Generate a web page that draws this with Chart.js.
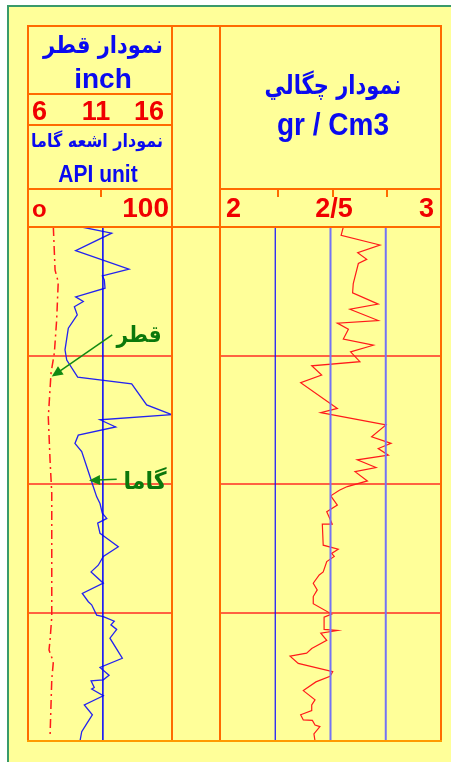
<!DOCTYPE html>
<html>
<head>
<meta charset="utf-8">
<script src="https://cdn.jsdelivr.net/npm/chart.js@4/dist/chart.umd.min.js"></script>
<style>
  body { margin: 0; background: #fff; width: 451px; height: 762px; overflow: hidden; position: relative; }
  #sheet { position: absolute; left: 7px; top: 5px; width: 460px; height: 770px; background: #FFFF99;
           border-left: 2px solid #3A9A6A; border-top: 2px solid #3A9A6A; }
  .ln { position: absolute; background: #FF6A00; }
  .txt { position: absolute; white-space: nowrap; text-align: center; }
  .fa { font-family: "DejaVu Sans", sans-serif; font-weight: bold; color: #0A0AF0; direction: rtl; }
  .en { font-family: "Liberation Sans", Arial, sans-serif; font-weight: bold; color: #0A0AF0; }
  .num { font-family: "Liberation Sans Narrow", "Liberation Sans", Arial, sans-serif; font-weight: bold; color: #F00000; }
  .note { font-family: "DejaVu Sans", sans-serif; font-weight: bold; color: #0B780B; direction: rtl; }
  canvas { position: absolute; }
</style>
</head>
<body>
<div id="sheet"></div>
<canvas id="leftTrack" width="144" height="514" style="left:28px;top:227px"></canvas>
<canvas id="rightTrack" width="221" height="514" style="left:220px;top:227px"></canvas>
<div id="overlay"></div>
<script>
// داده‌ها: عمق (0 بالا تا 100 پایین)
const gridDepths = [25, 50, 75];

// اشعه گاما (API)
const gammaDepth = [0, 1.2, 4.6, 8.2, 9.5, 10.3, 11.9, 13.6, 14.5, 15.5, 17.1, 19.7, 23.9, 25.9, 29.2, 30.5, 34.6, 36.5,
  37.5, 38.9, 40.5, 42.1, 43.7, 48.6, 50.5, 52.5, 53.8, 55.7, 56.7, 57.6, 59.6, 60.3, 62.2, 64.1, 65.8, 67.1, 69.3,
  71.3, 72.9, 73.5, 75.5, 75.8, 76.7, 77.4, 78.3, 80.0, 83.9, 85.7, 87.2, 88.1, 88.3, 89.6, 89.9, 91.2, 93.0, 94.9,
  96.6, 98.2, 100];
const gammaApi = [37.3, 58.1, 33.1, 70.1, 51.6, 53.0, 53.5, 33.1, 38.4, 32.2, 34.2, 28.0, 25.7, 26.9, 34.5, 72.0, 82.4, 99.8,
  50.0, 60.9, 34.9, 32.6, 37.3, 43.1, 45.3, 47.7, 50.0, 51.6, 54.7, 48.4, 50.0, 53.5, 62.7, 52.3, 48.8, 43.8, 52.3,
  37.7, 41.9, 44.2, 47.7, 52.3, 59.9, 57.6, 61.6, 56.9, 65.5, 50.0, 56.3, 52.3, 43.8, 46.0, 44.2, 52.3, 39.1, 44.7,
  40.8, 37.3, 36.1];
const shaleLineApi = 52;

// قطر (inch)
const caliperDepth = [0, 8.4, 10.7, 18.1, 24.5, 28.4, 37.0, 45.3, 51.8, 75.9, 80.4, 82.3, 84.6, 88.1, 99.2];
const caliperInch = [7.76, 7.88, 8.10, 7.99, 7.83, 7.60, 7.41, 7.53, 7.65, 7.65, 7.53, 7.46, 7.76, 7.65, 7.53];

// چگالی (gr/Cm3)
const densityDepth = [0, 1.6, 3.5, 5.0, 6.3, 7.1, 11.0, 12.8, 15.0, 16.0, 18.2, 18.7, 19.9, 21.8, 23.0, 24.3, 26.2, 27.0,
  28.8, 30.3, 35.3, 36.1, 38.5, 40.8, 42.1, 43.1, 44.4, 45.3, 46.8, 47.6, 49.4, 50.5, 51.2, 52.3, 54.1, 55.4, 57.8,
  57.8, 61.9, 62.7, 63.5, 64.1, 65.1, 67.1, 67.7, 69.3, 70.6, 71.9, 73.3, 75.3, 75.9, 78.3, 78.5, 79.0, 80.4, 82.0,
  82.9, 83.5, 84.9, 86.5, 87.4, 88.5, 90.2, 92.0, 93.0, 94.1, 94.9, 95.9, 96.0, 96.9, 97.2, 98.6, 100];
const densityGcc = [2.558, 2.548, 2.724, 2.623, 2.664, 2.626, 2.603, 2.600, 2.716, 2.588, 2.716, 2.531, 2.581, 2.558,
  2.694, 2.591, 2.633, 2.415, 2.460, 2.365, 2.531, 2.456, 2.751, 2.686, 2.774, 2.716, 2.762, 2.621, 2.706, 2.611,
  2.667, 2.576, 2.540, 2.501, 2.531, 2.483, 2.508, 2.463, 2.467, 2.535, 2.505, 2.517, 2.483, 2.467, 2.449, 2.422,
  2.440, 2.422, 2.422, 2.505, 2.471, 2.471, 2.531, 2.456, 2.483, 2.415, 2.392, 2.317, 2.354, 2.510, 2.498, 2.434,
  2.377, 2.430, 2.415, 2.415, 2.365, 2.377, 2.418, 2.430, 2.452, 2.425, 2.430];
const densityRefLines = [2.25, 2.5, 2.75];

// برچسب‌ها
const caliperTicks = ['6', '11', '16'];
const gammaTicks = ['o', '100'];
const densityTicks = ['2', '2/5', '3'];

// یادداشت‌ها روی مسیر چپ: شروع و نوک فلش بر حسب [گاما، عمق]
const notes = [
  { text: 'قطر', from: [58.5, 21.0], to: [16.5, 29.1] },
  { text: 'گاما', from: [61.6, 49.1], to: [42.4, 49.3] }
];

const pts = (xs, ys) => xs.map((x, i) => ({ x: x, y: ys[i] }));

function depthAxis() {
  return {
    type: 'linear', reverse: true, min: 0, max: 100,
    ticks: { display: false, stepSize: 25 },
    border: { display: false },
    grid: {
      drawTicks: false, lineWidth: 2,
      color: c => gridDepths.includes(c.tick.value) ? 'rgba(255,70,50,0.85)' : 'rgba(0,0,0,0)'
    }
  };
}

const arrowPlugin = {
  id: 'arrows',
  afterDatasetsDraw(chart) {
    const c = chart.ctx, sx = chart.scales.x, sy = chart.scales.y;
    notes.forEach(n => {
      const x1 = sx.getPixelForValue(n.from[0]), y1 = sy.getPixelForValue(n.from[1]);
      const x2 = sx.getPixelForValue(n.to[0]), y2 = sy.getPixelForValue(n.to[1]);
      const a = Math.atan2(y2 - y1, x2 - x1);
      c.save();
      c.strokeStyle = '#128A12'; c.fillStyle = '#128A12'; c.lineWidth = 1.5;
      c.beginPath(); c.moveTo(x1, y1); c.lineTo(x2 - 8 * Math.cos(a), y2 - 8 * Math.sin(a)); c.stroke();
      c.beginPath();
      c.moveTo(x2, y2);
      c.lineTo(x2 - 11 * Math.cos(a) + 5 * Math.sin(a), y2 - 11 * Math.sin(a) - 5 * Math.cos(a));
      c.lineTo(x2 - 11 * Math.cos(a) - 5 * Math.sin(a), y2 - 11 * Math.sin(a) + 5 * Math.cos(a));
      c.closePath(); c.fill();
      c.restore();
    });
  }
};

const common = {
  responsive: false, maintainAspectRatio: false, animation: false,
  layout: { padding: 0 },
  plugins: { legend: { display: false }, tooltip: { enabled: false } },
  elements: { point: { radius: 0 }, line: { tension: 0 } }
};

new Chart(document.getElementById('leftTrack'), {
  type: 'scatter',
  data: {
    datasets: [
      { data: pts([shaleLineApi, shaleLineApi], [0, 100]), showLine: true, borderColor: '#0000FF', borderWidth: 1.5 },
      { data: pts(caliperInch, caliperDepth), xAxisID: 'xCal', showLine: true, borderColor: '#FF1A1A',
        borderWidth: 1.5, borderDash: [9, 4, 2, 4] },
      { data: pts(gammaApi, gammaDepth), showLine: true, borderColor: '#2323F0', borderWidth: 1.3 }
    ]
  },
  options: Object.assign({}, common, {
    scales: {
      x: { type: 'linear', min: 0, max: 100, display: false },
      xCal: { type: 'linear', min: 6, max: 16, display: false },
      y: depthAxis()
    }
  }),
  plugins: [arrowPlugin]
});

new Chart(document.getElementById('rightTrack'), {
  type: 'scatter',
  data: {
    datasets: densityRefLines.map((v, i) => ({
      data: pts([v, v], [0, 100]), showLine: true,
      borderColor: i === 0 ? '#1010FF' : '#7373F5', borderWidth: i === 0 ? 1.2 : 2
    })).concat([
      { data: pts(densityGcc, densityDepth), showLine: true, borderColor: '#FF1A1A', borderWidth: 1.2 }
    ])
  },
  options: Object.assign({}, common, {
    scales: {
      x: { type: 'linear', min: 2, max: 3, display: false },
      y: depthAxis()
    }
  })
});

// قاب و عنوان‌ها
const overlay = document.getElementById('overlay');
function seg(x, y, w, h, color) {
  const d = document.createElement('div');
  d.className = 'ln';
  d.style.cssText = `left:${x}px;top:${y}px;width:${w}px;height:${h}px;` + (color ? `background:${color}` : '');
  overlay.appendChild(d);
}
function label(text, cls, cx, cy, size, align, stretch) {
  const d = document.createElement('div');
  d.className = 'txt ' + cls;
  d.textContent = text;
  d.style.fontSize = size + 'px';
  d.style.lineHeight = size * 1.3 + 'px';
  d.style.top = (cy - size * 0.65) + 'px';
  if (stretch) d.style.transform = `scaleY(${stretch})`;
  if (align === 'left') d.style.left = cx + 'px';
  else if (align === 'right') d.style.right = (451 - cx) + 'px';
  else { d.style.left = (cx - 150) + 'px'; d.style.width = '300px'; }
  overlay.appendChild(d);
}

// خطوط قاب
seg(27, 25, 415, 2);            // بالا
seg(27, 25, 2, 717);            // چپ
seg(171, 25, 2, 717);
seg(219, 25, 2, 717);
seg(440, 25, 2, 717);           // راست
seg(27, 740, 415, 2, '#FF9A00'); // پایین
seg(27, 93, 146, 2);
seg(27, 124, 146, 2);
seg(27, 188, 146, 2);
seg(219, 188, 223, 2);
seg(27, 226, 415, 2);
// تیک‌های مقیاس
seg(100, 189, 2, 8);
[277, 332, 386].forEach(x => seg(x, 189, 2, 8));

// سرستون چپ
label('نمودار قطر', 'fa', 103, 46, 21, null, 1.15);
label('inch', 'en', 103, 79, 28);
label(caliperTicks[0], 'num', 32, 112, 27, 'left');
label(caliperTicks[1], 'num', 96, 112, 27);
label(caliperTicks[2], 'num', 164, 112, 27, 'right');
label('نمودار اشعه گاما', 'fa', 97, 141, 16, null, 1.15);
label('API unit', 'en', 98, 174, 21, null, 1.15);
label(gammaTicks[0], 'num', 32, 209, 24, 'left');
label(gammaTicks[1], 'num', 169, 208, 28, 'right');

// سرستون راست
label('نمودار چگالي', 'fa', 333, 86, 21, null, 1.25);
label('gr / Cm3', 'en', 333, 125, 28, null, 1.1);
label(densityTicks[0], 'num', 226, 209, 27, 'left');
label(densityTicks[1], 'num', 334, 209, 27);
label(densityTicks[2], 'num', 434, 209, 27, 'right');

// یادداشت‌ها
label(notes[0].text, 'note', 139, 334, 20, null, 1.15);
label(notes[1].text, 'note', 145, 481, 22, null, 1.1);
</script>
</body>
</html>
